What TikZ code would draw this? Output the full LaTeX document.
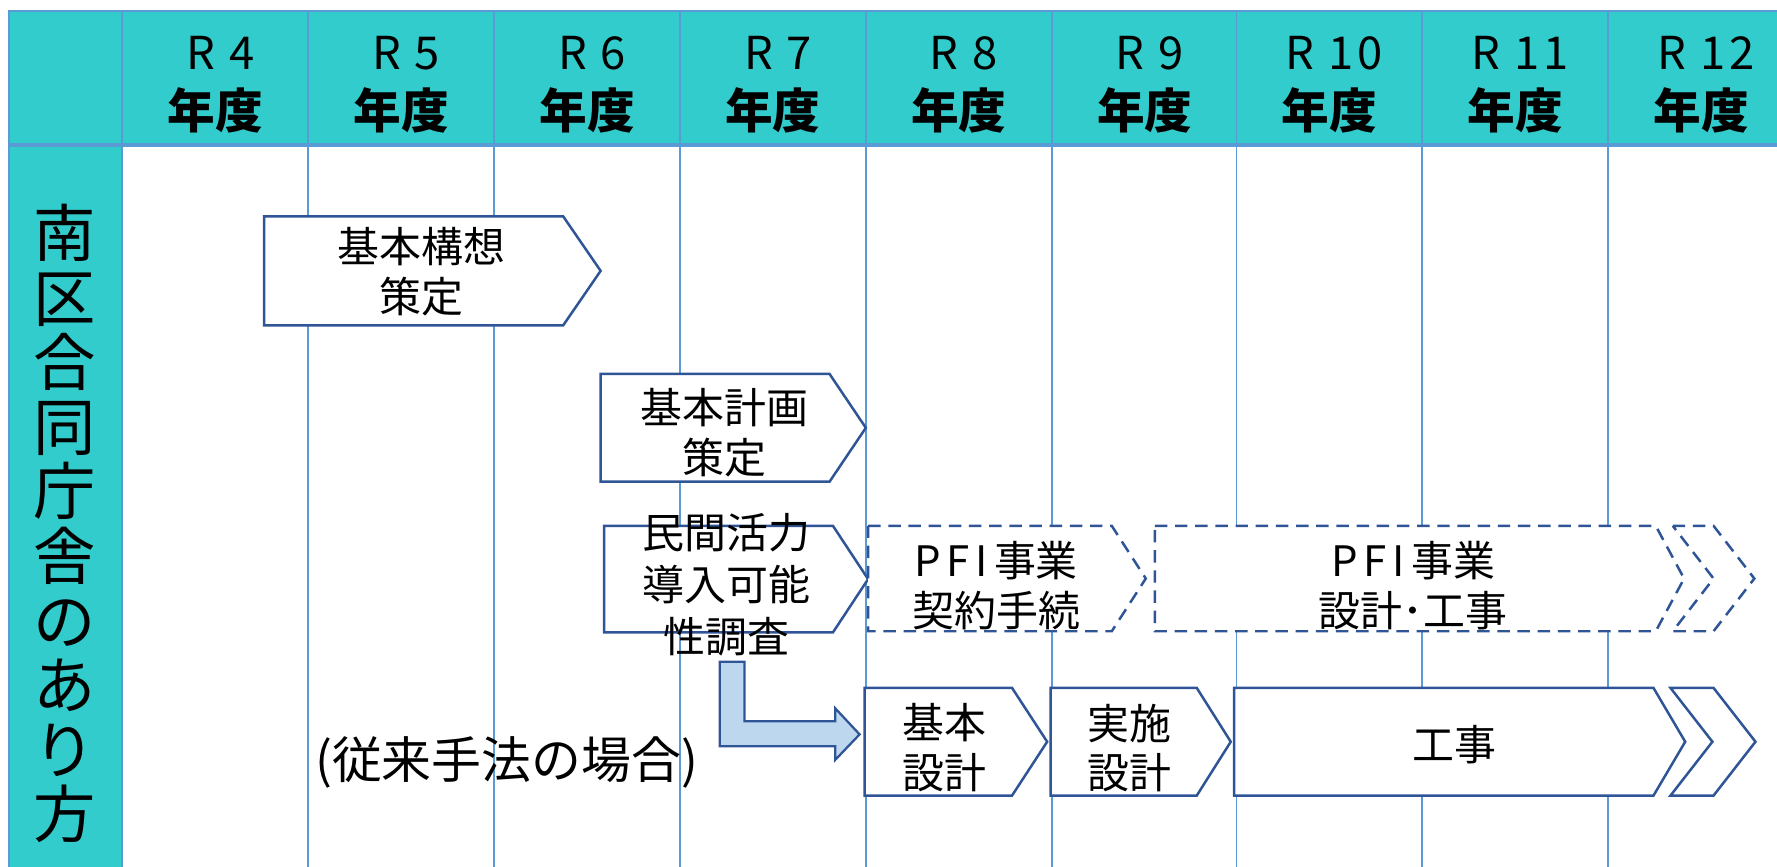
\documentclass[tikz,border=0pt]{standalone}
\usepackage{fontspec}
\setmainfont{Noto Sans CJK JP}
\definecolor{tealc}{RGB}{51,204,204}
\definecolor{gridc}{RGB}{91,155,213}
\definecolor{boxc}{RGB}{47,85,151}
\definecolor{arrfill}{RGB}{189,215,238}
\newcommand\chevpath[6]{% style, x1, y1, xb, xt, y2
  \draw[#1] (#2,#3) -- (#4,#3) -- (#5,{(#3+#6)/2}) -- (#4,#6) -- (#2,#6) -- cycle;}
\newcommand\tailchev[6]{% style, xa, y1, xb, y2, depth
  \draw[#1] (#2,#3) -- (#4,#3) -- ({#4+#6},{(#3+#5)/2}) -- (#4,#5) -- (#2,#5) -- ({#2+#6},{(#3+#5)/2}) -- cycle;}
\newcommand\dg[1]{\makebox[12.8pt]{#1}}
\newcommand\pfi{P\hspace{2.6pt}F\hspace{2.6pt}I\hspace{2.6pt}}
\begin{document}
\begin{tikzpicture}[x=0.5pt,y=-0.5pt,
  gridline/.style={draw=gridc, line width=0.8pt},
  solidbox/.style={draw=boxc, fill=white, line width=1.1pt, line join=miter},
  dashbox/.style={draw=boxc, fill=white, line width=1.1pt, dash pattern=on 5.5pt off 3.4pt},
  lbl/.style={inner sep=0pt, align=center, font=\fontsize{18.5}{22}\selectfont},
  hdr/.style={inner sep=0pt, align=center, font=\fontsize{20}{24}\selectfont},
  hdrb/.style={inner sep=0pt, align=center, font=\fontsize{21}{24}\selectfont\bfseries}]
\useasboundingbox (0,0) rectangle (1568,765);
% header and left column
\fill[tealc] (8,10) rectangle (1568,128);
\fill[tealc] (8,128) rectangle (108,765);
\foreach \x in {108,272,436,600,764,928,1091,1255,1419}
  \draw[gridline] (\x,10) -- (\x,765);
\draw[gridline] (8,765) -- (8,10) -- (1568,10);
\draw[draw=gridc, line width=2pt] (8,128) -- (1568,128);
% header labels
\foreach \x/\n [count=\i] in {190/\dg{4},354/\dg{5},518/\dg{6},682/\dg{7},846/\dg{8},1010/\dg{9},1173/\dg{1}\dg{0},1337/\dg{1}\dg{1},1501/\dg{1}\dg{2}}{
  \node[hdr] (r\i) at (\x,47) {\makebox[23.2pt]{R}\n};
  \node[hdrb] (n\i) at (\x,97.5) {年度};
}
% left vertical title
\node[inner sep=0pt, align=center, font=\fontsize{27.5}{28.5}\selectfont] (title) at (57,462)
  {南\\区\\合\\同\\庁\\舎\\の\\あ\\り\\方};
% boxes
\chevpath{solidbox}{233}{191}{497}{530}{287}
\node[lbl] (kousou) at (372,240) {基本構想\\策定};
\chevpath{solidbox}{530}{330}{732}{764}{425}
\node[lbl] (keikaku) at (639,381.5) {基本計画\\策定};
\chevpath{solidbox}{533}{464}{735}{766}{558}
\node[lbl, font=\fontsize{18.5}{23}\selectfont] (minkan) at (641,516) {民間活力\\導入可能\\性調査};
\chevpath{dashbox}{766}{464}{981}{1011}{557}
\node[lbl] (pfi1) at (879,517) {\pfi 事業\\契約手続};
\chevpath{dashbox}{1019}{464}{1461}{1486}{557}
\tailchev{dashbox}{1476}{464}{1512}{557}{36}
\node[lbl] (pfi2) at (1247,517) {\pfi 事業\\設計･工事};
\chevpath{solidbox}{763}{607}{893}{924}{702}
\node[lbl] (kihon) at (833,660) {基本\\設計};
\chevpath{solidbox}{927}{607}{1056}{1086}{702}
\node[lbl] (jisshi) at (997,660) {実施\\設計};
\chevpath{solidbox}{1089}{607}{1459}{1487}{702}
\tailchev{solidbox}{1474}{607}{1512}{702}{37}
\node[lbl] (kouji) at (1283,657) {工事};
% bent arrow
\draw[draw=boxc, fill=arrfill, line width=1pt]
  (635,584) -- (657,584) -- (657,636.5) -- (737,636.5) -- (737,625) -- (758.5,648)
  -- (737,670.5) -- (737,658.5) -- (635,658.5) -- cycle;
% note
\node[inner sep=0pt, font=\fontsize{22}{26}\selectfont] (juurai) at (447,673) {(従来手法の場合)};
\end{tikzpicture}
\end{document}
